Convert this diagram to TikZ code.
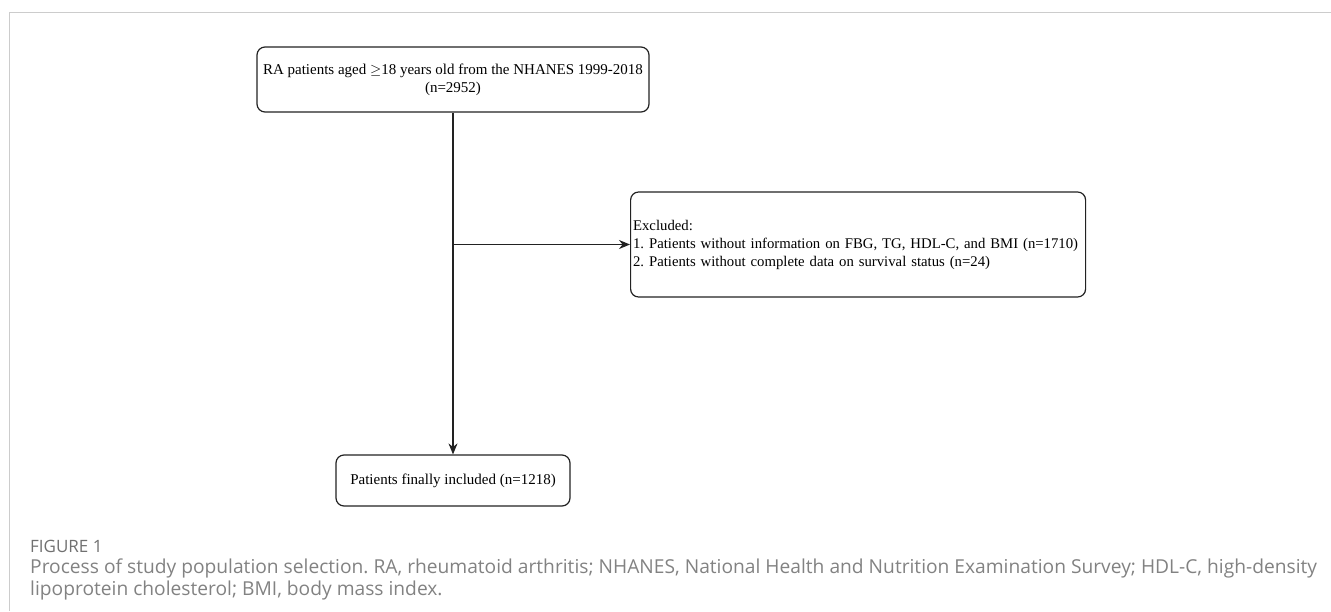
\documentclass[tikz,border=0pt]{standalone}
\usepackage{fontspec}
\setmainfont{Liberation Serif}
\newfontfamily\capfont{Open Sans}
\usetikzlibrary{arrows.meta}
\definecolor{framecol}{HTML}{CCCCCC}
\definecolor{capgray}{HTML}{828282}
\definecolor{figgray}{HTML}{707070}
\definecolor{boxline}{HTML}{222222}
\frenchspacing
\begin{document}
\begin{tikzpicture}[x=1pt,y=-1pt,
  flowbox/.style={draw=boxline, line width=1.2pt, rounded corners=8pt, inner sep=0pt,
    font=\fontsize{15}{18}\selectfont},
  conn/.style={draw=boxline, line width=1.2pt},
  arr/.style={conn, -{Stealth[length=11pt,width=9pt]}},
  captxt/.style={anchor=west, inner sep=0pt, text=capgray}
]
\useasboundingbox (0,0) rectangle (1331,611);
\draw[framecol, line width=1pt] (1331,12) -- (9,12) -- (9,611);

\node[flowbox, minimum width=392pt, minimum height=65pt, align=center] (top) at (453,79.5)
  {RA patients aged \(\geq\)18 years old from the NHANES 1999-2018\\(n=2952)};
\node[flowbox, anchor=west, minimum width=455pt, minimum height=105pt, inner xsep=2.5pt, text width=450pt, align=left,
  font=\fontsize{14.75}{18}\selectfont] (excl) at (630,244.5)
  {Excluded:\\\mbox{1. Patients without information on FBG, TG, HDL-C, and BMI (n=1710)}\\\mbox{2. Patients without complete data on survival status (n=24)}};
\node[flowbox, minimum width=234pt, minimum height=51pt, align=center] (final) at (453,480.5)
  {Patients finally included (n=1218)};

\coordinate (branch) at (top.south |- excl.west);
\draw[arr] (top.south) -- (final.north);
\draw[arr] (branch) -- (excl.west);

\node[captxt, text=figgray, font=\capfont\fontsize{17}{20}\selectfont] (figlabel) at (30,546) {FIGURE 1};
\node[captxt, font=\capfont\fontsize{19.2}{23}\selectfont] (cap1) at (30,568)
  {Process of study population selection. RA, rheumatoid arthritis; NHANES, National Health and Nutrition Examination Survey; HDL-C, high-density};
\node[captxt, font=\capfont\fontsize{19.2}{23}\selectfont] (cap2) at (30,591)
  {lipoprotein cholesterol; BMI, body mass index.};
\end{tikzpicture}
\end{document}
